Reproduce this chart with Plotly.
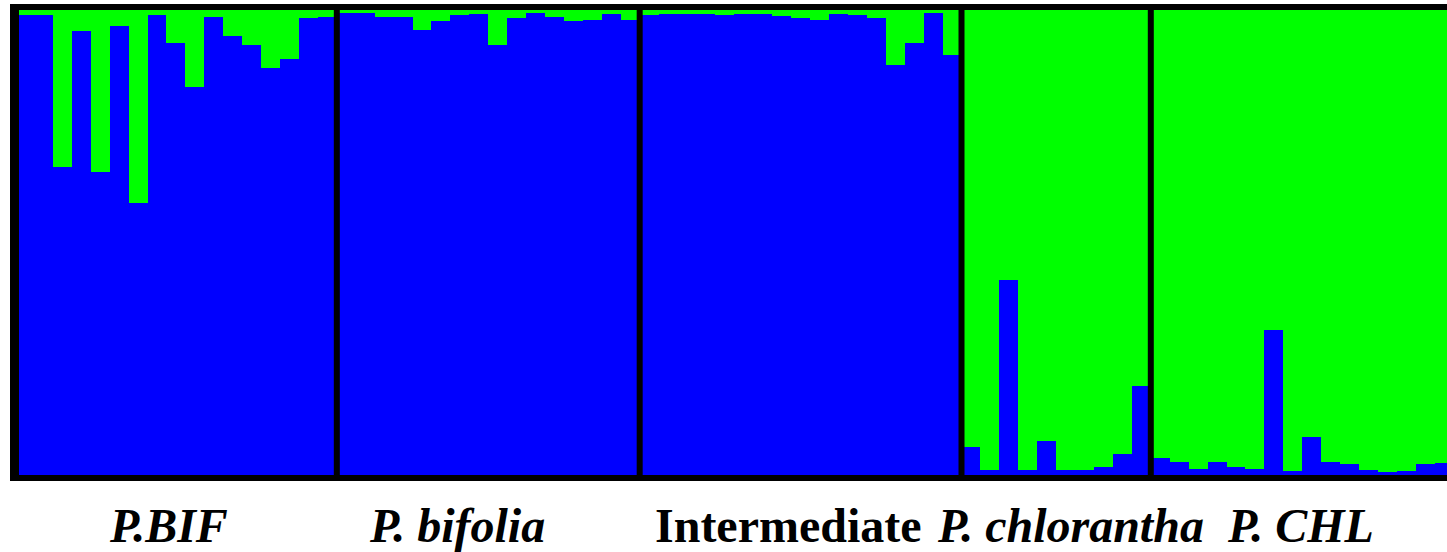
import plotly.graph_objects as go

# Membership of each individual in cluster 1 (blue) and cluster 2 (green)
group_names = ["P.BIF", "P. bifolia", "Intermediate", "P. chlorantha", "P. CHL"]
group_sizes = [17, 16, 17, 10, 16]

blue_pbif = [0.989, 0.989, 0.662, 0.955, 0.652, 0.966, 0.585, 0.989, 0.929, 0.834,
             0.985, 0.944, 0.925, 0.875, 0.895, 0.983, 0.985]
blue_bifolia = [0.994, 0.994, 0.985, 0.985, 0.957, 0.976, 0.989, 0.991, 0.925, 0.983,
                0.994, 0.985, 0.976, 0.978, 0.991, 0.978]
blue_inter = [0.989, 0.991, 0.991, 0.991, 0.989, 0.991, 0.991, 0.987, 0.983, 0.978,
              0.991, 0.989, 0.983, 0.882, 0.929, 0.994, 0.903]
blue_chlorantha = [0.060, 0.011, 0.419, 0.011, 0.073, 0.011, 0.011, 0.017, 0.045, 0.191]
blue_pchl = [0.037, 0.028, 0.013, 0.028, 0.017, 0.013, 0.312, 0.009, 0.082, 0.028,
             0.024, 0.011, 0.006, 0.009, 0.024, 0.026]

green_pbif = [0.011, 0.011, 0.338, 0.045, 0.348, 0.034, 0.415, 0.011, 0.071, 0.166,
              0.015, 0.056, 0.075, 0.125, 0.105, 0.017, 0.015]
green_bifolia = [0.006, 0.006, 0.015, 0.015, 0.043, 0.024, 0.011, 0.009, 0.075, 0.017,
                 0.006, 0.015, 0.024, 0.022, 0.009, 0.022]
green_inter = [0.011, 0.009, 0.009, 0.009, 0.011, 0.009, 0.009, 0.013, 0.017, 0.022,
               0.009, 0.011, 0.017, 0.118, 0.071, 0.006, 0.097]
green_chlorantha = [0.940, 0.989, 0.581, 0.989, 0.927, 0.989, 0.989, 0.983, 0.955, 0.809]
green_pchl = [0.963, 0.972, 0.987, 0.972, 0.983, 0.987, 0.688, 0.991, 0.918, 0.972,
              0.976, 0.989, 0.994, 0.991, 0.976, 0.974]

blue = blue_pbif + blue_bifolia + blue_inter + blue_chlorantha + blue_pchl
green = green_pbif + green_bifolia + green_inter + green_chlorantha + green_pchl
idx = list(range(len(blue)))

W, H = 1447, 552
ml, mr, mt, mb = 10, 0, 10, 77
pw, ph = W - ml - mr, H - mt - mb
bar_px = 18.93
x_lo = (10 - 15) / bar_px - 0.5
x_hi = x_lo + pw / bar_px

fig = go.Figure()
fig.add_trace(go.Bar(x=idx, y=blue, marker=dict(color="#0000FF", line=dict(width=0)),
                     width=1.0, showlegend=False))
fig.add_trace(go.Bar(x=idx, y=green, marker=dict(color="#00FF00", line=dict(width=0)),
                     width=1.0, showlegend=False))

shapes = []
# separators between groups
b = -0.5
for s in group_sizes[:-1]:
    b += s
    shapes.append(dict(type="line", xref="x", yref="paper", x0=b, x1=b, y0=0, y1=1,
                       line=dict(color="black", width=6)))
# frame
t = 6 / ph
shapes.append(dict(type="rect", xref="paper", yref="paper", x0=0, x1=1, y0=1, y1=1 + t,
                   fillcolor="black", line=dict(width=0)))
shapes.append(dict(type="rect", xref="paper", yref="paper", x0=0, x1=1, y0=-t, y1=0,
                   fillcolor="black", line=dict(width=0)))
shapes.append(dict(type="rect", xref="paper", yref="paper", x0=0, x1=9 / pw, y0=-t, y1=1 + t,
                   fillcolor="black", line=dict(width=0)))

label_px = [168, 457, 788, 1070, 1300]
annotations = []
for name, px in zip(group_names, label_px):
    italic = name != "Intermediate"
    txt = f"<b><i>{name}</i></b>" if italic else f"<b>{name}</b>"
    annotations.append(dict(text=txt, xref="x", yref="paper",
                            x=(px - 15) / bar_px - 0.5, y=0, yanchor="top", xanchor="center",
                            yshift=-22, showarrow=False,
                            font=dict(family="Liberation Serif", size=48, color="black")))

fig.update_layout(
    width=W, height=H, barmode="stack", bargap=0,
    margin=dict(l=ml, r=mr, t=mt, b=mb),
    paper_bgcolor="white", plot_bgcolor="white",
    xaxis=dict(range=[x_lo, x_hi], visible=False, fixedrange=True),
    yaxis=dict(range=[0, 1], visible=False, fixedrange=True),
    shapes=shapes, annotations=annotations,
)
fig.write_html("out.html", config={"displayModeBar": False},
               post_script="document.body.style.margin='0';document.body.style.overflow='hidden';")
